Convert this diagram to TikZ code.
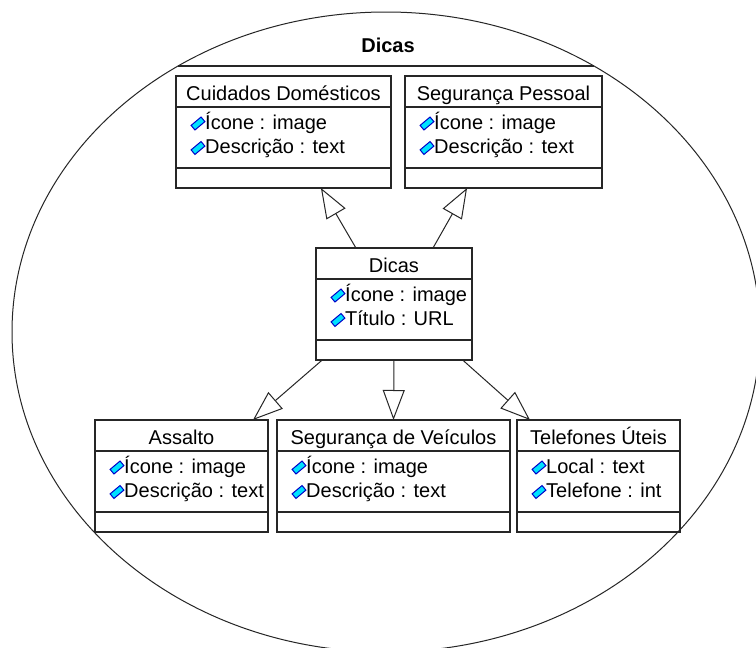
\documentclass[tikz,border=0pt]{standalone}
\usepackage{fontspec}
\setmainfont{Liberation Sans}
\usetikzlibrary{shapes.geometric,arrows.meta,calc}

\tikzset{
  boxline/.style={draw=black!85, line width=1.3pt},
  classbox/.style={boxline, rectangle, anchor=north west, minimum height=112pt,
    inner sep=0pt, outer sep=0pt},
  classtitle/.style={anchor=base, inner sep=0pt, font=\fontsize{20}{24}\selectfont},
  attrtext/.style={anchor=base west, inner sep=0pt, font=\fontsize{20}{24}\selectfont},
  attricon/.style={rectangle, draw={rgb,255:red,0;green,0;blue,200},
    fill={rgb,255:red,0;green,225;blue,255}, line width=1pt,
    minimum width=13pt, minimum height=6pt, inner sep=0pt, rotate=40},
  inherit/.style={draw=black!85, line width=1pt,
    -{Triangle[open, length=30pt, width=22pt, line width=1pt]}},
  package/.style={ellipse, draw=black!85, line width=1pt, minimum width=748pt,
    minimum height=640pt, inner sep=0pt, outer sep=0pt},
}

% one UML class: name, left, top, width, title, first and second attribute
\newcommand\umlclass[7]{%
  \node[classbox, minimum width=#4pt] (#1) at (#2,#3) {};
  \node[classtitle] (#1-title) at ($(#1.north)+(0,24)$) {#5};
  \draw[boxline] ($(#1.north west)+(0,31)$) -- ($(#1.north east)+(0,31)$);
  \draw[boxline] ($(#1.north west)+(0,92)$) -- ($(#1.north east)+(0,92)$);
  \node[attricon] (#1-i1) at ($(#1.north west)+(22,47.5)$) {};
  \node[attrtext] (#1-a1) at ($(#1.north west)+(29,53)$) {#6};
  \node[attricon] (#1-i2) at ($(#1.north west)+(22,72)$) {};
  \node[attrtext] (#1-a2) at ($(#1.north west)+(29,77.5)$) {#7};
}

\begin{document}
\begin{tikzpicture}[x=1pt, y=-1pt]
  \useasboundingbox (0,0) rectangle (756,648);
  \fill[white] (0,0) rectangle (756,648);

  % package
  \node[package] (pkg) at (386,332) {};
  \draw[draw=black!85, line width=1.3pt] (pkg.128) -- (pkg.52);
  \node[anchor=base, inner sep=0pt, font=\fontsize{20}{24}\selectfont\bfseries]
    (pkg-title) at (388,52) {Dicas};

  % classes
  \umlclass{cd}{176}{76}{215}{Cuidados Domésticos}{Ícone : image}{Descrição : text}
  \umlclass{sp}{405}{76}{197}{Segurança Pessoal}{Ícone : image}{Descrição : text}
  \umlclass{dc}{316}{248}{156}{Dicas}{Ícone : image}{Título : URL}
  \umlclass{as}{95}{420}{173}{Assalto}{Ícone : image}{Descrição : text}
  \umlclass{sv}{277}{420}{233}{Segurança de Veículos}{Ícone : image}{Descrição : text}
  \umlclass{tu}{517}{420}{163}{Telefones Úteis}{Local : text}{Telefone : int}

  % generalisations
  \draw[inherit] ($(dc.north west)!0.256!(dc.north east)$) -- ($(cd.south west)!0.674!(cd.south east)$);
  \draw[inherit] ($(dc.north west)!0.75!(dc.north east)$) -- ($(sp.south west)!0.315!(sp.south east)$);
  \draw[inherit] ($(dc.south west)!0.04!(dc.south east)$) -- ($(as.north west)!0.913!(as.north east)$);
  \draw[inherit] (dc.south) -- (sv.north);
  \draw[inherit] ($(dc.south west)!0.94!(dc.south east)$) -- ($(tu.north west)!0.08!(tu.north east)$);
\end{tikzpicture}
\end{document}
